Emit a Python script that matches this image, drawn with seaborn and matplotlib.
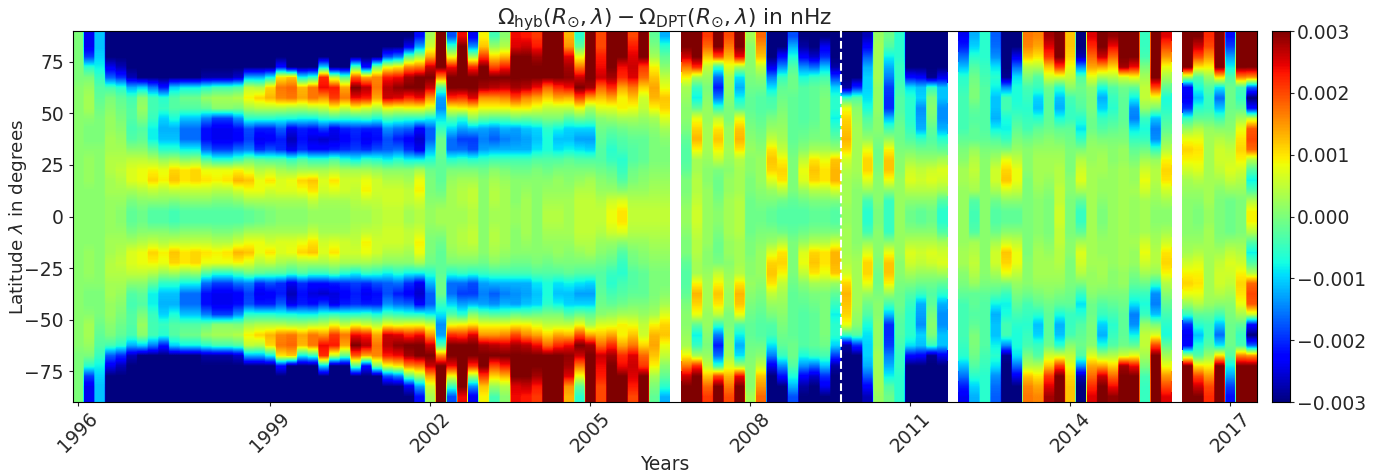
import numpy as np
import pandas as pd
import matplotlib
matplotlib.use('Agg')
import matplotlib.pyplot as plt
import seaborn as sns

sns.set_style('white')

# differences in 1e-4 nHz, one list per time step, from the pole (87.5) to the equator (2.5)
latitudes = [87.5, 82.5, 77.5, 72.5, 67.5, 62.5, 57.5, 52.5, 47.5, 42.5, 37.5, 32.5, 27.5, 22.5, 17.5, 12.5, 7.5, 2.5]
gap = [np.nan] * 18

cycle23_rise = [
    [0, 0, 0, 0, 0, 1, 1, 1, 1, 1, 1, 1, 1, 1, 1, 1, 1, 1],
    [-24, -24, -19, -6, 0, 2, 3, 3, 1, 0, 0, 1, 2, 2, 2, 1, 1, 1],
    [-11, -11, -10, -8, -5, -3, -2, -1, 0, 0, 0, 1, 1, 1, 1, 1, 1, 1],
    [-30, -30, -30, -24, -17, -4, 0, 1, 2, 2, 3, 3, 4, 4, 3, 3, 2, 2],
    [-30, -30, -30, -27, -20, -6, -2, -1, 0, 1, 2, 3, 4, 5, 4, 3, 2, 1],
    [-30, -30, -30, -30, -27, -12, -4, -3, -3, -4, -3, 1, 5, 7, 7, 3, 0, -2],
    [-30, -30, -30, -30, -30, -10, 1, 2, 0, -3, -2, 1, 5, 8, 8, 4, 1, -1],
    [-30, -30, -30, -30, -30, -15, -4, -4, -5, -8, -8, -2, 4, 9, 11, 5, 1, -3],
    [-30, -30, -30, -30, -30, -21, -6, -5, -10, -12, -11, -6, 2, 8, 9, 4, 1, -3],
    [-30, -30, -30, -30, -30, -10, -3, -3, -7, -12, -11, -6, 3, 11, 12, 5, 0, -4],
    [-30, -30, -30, -30, -30, -8, -1, -3, -11, -16, -16, -8, 1, 10, 10, 5, 1, -3],
    [-30, -30, -30, -30, -30, -8, -1, -3, -11, -16, -16, -8, 2, 11, 11, 5, 1, -3],
    [-30, -30, -30, -30, -28, -6, 2, -2, -15, -22, -22, -16, -3, 8, 10, 5, 1, -3],
    [-30, -30, -30, -30, -28, -4, 3, 1, -19, -24, -24, -19, -6, 8, 9, 4, 0, -3],
    [-30, -30, -30, -30, -28, -4, 3, 1, -19, -24, -24, -19, -6, 8, 10, 4, 0, -3],
    [-30, -30, -30, -30, -26, -3, 4, 0, -14, -22, -23, -16, -4, 9, 13, 6, 1, -3],
]
cycle23_max = [
    [-30, -30, -30, -30, -12, 5, 9, 3, -6, -18, -19, -15, -1, 7, 12, 8, 3, -2],
    [-30, -30, -30, -30, -12, 4, 11, 4, -6, -21, -24, -20, -2, 4, 8, 8, 3, -1],
    [-30, -30, -30, -30, -8, 11, 13, 4, -6, -21, -23, -18, -3, 5, 10, 6, 3, 0],
    [-30, -30, -30, -22, 10, 17, 16, 4, -7, -17, -21, -20, -3, 3, 7, 7, 3, 1],
    [-30, -30, -30, -30, 12, 18, 17, 3, -7, -24, -27, -24, -5, 2, 8, 7, 3, 1],
    [-30, -30, -30, -30, -8, 13, 14, 3, -8, -21, -22, -20, -3, 3, 11, 8, 3, 1],
    [-30, -30, -30, -30, -5, 17, 17, 4, -8, -22, -25, -22, -5, 3, 12, 10, 5, 2],
    [-30, -30, -30, -10, 22, 24, 15, 5, -6, -19, -26, -22, -5, 3, 7, 6, 3, 2],
    [-30, -30, -30, -30, 5, 23, 21, 8, -5, -24, -25, -21, -3, 4, 10, 7, 3, 2],
    [-30, -30, -30, -30, -2, 14, 17, 5, -6, -21, -23, -20, -6, 3, 6, 6, 3, 2],
    [-30, -30, -30, -3, 19, 30, 24, 8, -6, -20, -21, -19, -8, 3, 6, 5, 4, 3],
    [-30, -30, -30, -22, 14, 27, 23, 6, -5, -21, -24, -20, -5, 3, 8, 9, 5, 3],
    [-30, -30, -30, 0, 16, 17, 14, 4, -7, -21, -22, -18, -6, 2, 6, 6, 5, 4],
    [-30, -30, -18, 8, 23, 27, 26, 8, -4, -14, -18, -17, -8, 1, 4, 6, 6, 5],
    [-30, -30, -15, 10, 24, 29, 25, 7, -5, -16, -21, -16, -6, 1, 4, 6, 6, 5],
    [-30, -24, -2, 16, 28, 30, 22, 8, -6, -17, -23, -20, -8, 1, 3, 5, 5, 3],
]
cycle23_decline = [
    [-22, -13, 3, 17, 30, 30, 24, 8, -6, -23, -26, -24, -8, 3, 8, 9, 6, 4],
    [3, 6, 14, 26, 30, 26, 15, 6, -8, -17, -17, -12, -6, -1, 0, 0, 1, 2],
    [30, 30, 30, 30, 16, -3, -13, -14, -9, -5, -1, -1, -2, -2, -2, -1, 1, 3],
    [-18, -5, 8, 24, 30, 30, 22, 8, -3, -10, -16, -16, -6, 0, 2, 3, 3, 3],
    [24, 30, 30, 30, 30, 30, 21, 9, -6, -13, -19, -16, -5, 0, 3, 4, 4, 3],
    [-24, -14, 3, 22, 30, 30, 25, 10, 1, -12, -19, -18, -6, 0, 3, 5, 5, 4],
    [9, 12, 21, 30, 30, 28, 15, 8, -2, -13, -15, -13, -5, -1, 1, 1, 1, 1],
    [-4, 2, 11, 20, 30, 27, 15, 8, -3, -14, -17, -12, -4, 1, 3, 4, 4, 3],
    [1, 4, 13, 23, 30, 26, 16, 8, -3, -12, -15, -12, -4, 0, 2, 3, 3, 3],
    [24, 25, 30, 30, 30, 28, 20, 9, -1, -13, -14, -12, -4, -1, 1, 1, 1, 2],
    [23, 26, 30, 30, 30, 27, 16, 9, -2, -11, -13, -12, -4, -1, 1, 2, 3, 3],
    [21, 23, 28, 30, 30, 24, 14, 7, -1, -10, -11, -9, -3, 0, 1, 1, 1, 1],
    [30, 30, 30, 30, 30, 18, 11, 5, 0, -6, -7, -7, -3, -1, 1, 2, 3, 4],
    [30, 30, 30, 30, 30, 22, 14, 5, 0, -8, -11, -9, -3, 0, 2, 2, 3, 4],
    [13, 15, 25, 28, 29, 24, 13, 5, -3, -10, -11, -8, -2, 0, 1, 2, 3, 3],
    [-6, -2, 8, 17, 26, 30, 20, 8, -1, -10, -13, -9, -3, 0, 2, 4, 5, 5],
    [30, 30, 30, 30, 30, 28, 14, 3, -2, -10, -13, -10, -3, 0, 3, 4, 5, 5],
    [20, 20, 23, 24, 26, 18, 12, 7, 1, -1, -2, -3, -3, -1, 1, 2, 4, 5],
    [30, 30, 30, 30, 28, 22, 14, 7, 2, -2, -4, -6, -5, -2, 0, 2, 6, 8],
    [30, 30, 30, 24, 22, 14, 9, 9, 3, -1, -3, -4, -6, -5, -3, 1, 7, 10],
    [20, 23, 25, 26, 25, 17, 12, 8, 3, 0, -2, -3, -3, -1, 0, 2, 4, 5],
    [30, 30, 30, 21, 18, 11, 6, 5, 2, 0, -2, -2, -2, 0, 1, 2, 4, 5],
    [-2, 0, 3, 9, 12, 14, 13, 9, 3, 1, 0, 0, 0, 1, 2, 3, 4, 5],
    [-12, -6, -2, 1, 5, 8, 12, 11, 7, 3, 1, 0, 0, 1, 2, 3, 4, 5],
]
cycle23_min = [
    [30, 30, 26, 17, 9, 3, 2, 1, 1, 0, -2, -3, -3, -2, 0, 0, 1, 2],
    [30, 30, 30, 22, 3, -5, -8, -2, 8, 11, 13, 9, 3, 3, 4, 4, 5, 6],
    [21, 18, 12, 5, 2, 0, 1, 2, 2, 3, 3, 3, 2, 1, 1, 2, 2, 2],
    [30, 30, 20, -5, -16, -21, -15, -5, 5, 10, 12, 9, 5, 0, -1, -1, 0, 1],
    [20, 17, 13, 7, 3, 2, 1, 0, 0, 2, 2, 3, 2, 1, 2, 2, 3, 3],
    [30, 30, 24, 3, -9, -12, -8, -3, 8, 12, 13, 10, 4, 3, 3, 3, 4, 4],
    [3, 1, 1, 1, 0, -1, -2, -2, -1, 0, 1, 2, 1, 1, 0, 0, -1, -1],
    [18, 15, 12, 5, 1, -1, -3, -3, -2, -1, 0, 1, 2, 2, 2, 1, 0, -1],
    [-30, -30, -30, -24, -15, -9, -4, -3, 0, 2, 5, 10, 12, 11, 7, 2, 0, -2],
    [-30, -30, -22, -14, -5, -2, -1, 0, 1, 2, 3, 5, 9, 11, 10, 4, -1, -3],
    [-18, -12, -7, -3, -1, -1, -2, -2, -2, -2, -2, -1, 0, 0, 0, 0, -2, -3],
    [-30, -28, -23, -14, -7, -3, -3, -3, -3, -2, -1, 1, 5, 8, 7, 2, -1, -3],
    [-30, -30, -26, -16, -5, -2, -2, -2, -2, -1, 0, 3, 10, 12, 11, 4, 0, -2],
    [-30, -24, -20, -11, -4, -1, 0, 0, 0, 0, 0, 3, 8, 10, 10, 4, 0, -2],
    [-30, -30, -30, -28, -19, -10, -6, -6, -8, -5, -2, 2, 12, 13, 13, 6, 0, -3],
]
cycle24_rise = [
    [-30, -30, -30, -30, -30, -28, -5, 8, 11, 12, 13, 11, 6, 4, 3, 3, 3, 2],
    [-30, -30, -30, -30, -30, -20, -3, 1, 2, 3, 3, 3, 3, 3, 2, 1, 1, 1],
    [-27, -23, -17, -12, -10, -10, -9, -7, -3, -1, 2, 8, 11, 11, 7, 2, -4, -6],
    [2, 3, 3, 3, 3, 2, 2, 2, 1, 1, 0, -1, -1, 0, 1, 1, 1, 0],
    [-1, -3, -8, -12, -15, -19, -20, -20, -11, -4, 2, 9, 12, 12, 8, 1, -5, -5],
    [-6, -6, -6, -5, -5, -4, -3, -3, -2, -1, -1, 0, 1, 1, 2, 2, 2, 2],
    [-30, -30, -30, -30, -22, -9, -6, -6, -6, -5, -3, 0, 3, 6, 7, 4, 1, -1],
    [-30, -30, -30, -30, -23, -11, -10, -14, -13, -12, -5, -1, 2, 5, 6, 4, 1, -2],
    [-30, -30, -30, -30, -29, -5, 0, 1, 0, -2, -3, -1, 2, 6, 7, 4, 1, -1],
    [-30, -30, -30, -30, -24, -11, -11, -14, -14, -12, -6, -2, 3, 7, 6, 3, -3, -6],
]
cycle24_max = [
    [-24, -21, -16, -11, -6, -5, -4, -4, -4, -4, -2, 0, 1, 3, 3, 2, 2, 2],
    [-12, -10, -6, -3, -1, 0, 0, -2, -3, -2, -2, 2, 4, 5, 4, 3, -3, -4],
    [-6, -6, -6, -5, -4, -3, -3, -3, -3, -3, -2, 0, 1, 1, 1, 1, 1, 1],
    [-17, -16, -14, -9, -6, -8, -11, -11, -12, -8, -3, 0, 3, 6, 6, 3, -1, -3],
    [-30, -30, -30, -30, -29, -14, -4, -4, -7, -8, -5, 0, 8, 11, 12, 6, 1, -2],
    [-30, -30, -24, -16, -9, -7, -7, -6, -4, -2, 0, 2, 5, 8, 8, 5, 1, -2],
    [17, 16, 12, 4, 0, -4, -5, -6, -5, -4, -1, 1, 1, 1, 0, 0, 0, 0],
    [16, 14, 10, 4, -3, -5, -10, -11, -6, -2, 0, 2, 3, 3, 3, 2, 1, 1],
    [28, 25, 21, 12, 6, -1, -2, -2, -2, -1, 1, 2, 3, 3, 2, 1, 0, 0],
    [30, 30, 30, 21, 6, -6, -11, -12, -7, -2, 0, 2, 3, 4, 4, 5, 5, 6],
    [12, 12, 11, 8, 5, 1, -4, -5, -5, -2, -1, 0, 0, 0, 1, 1, 0, 0],
    [-30, -30, -27, -14, -3, -1, -2, -3, -6, -9, -5, 0, 4, 6, 7, 3, -2, -5],
    [25, 22, 18, 14, 7, 1, 0, 0, -1, -1, 1, 2, 2, 3, 3, 3, 3, 3],
]
cycle24_decline = [
    [30, 30, 26, 14, 3, -7, -12, -10, -5, -3, 0, 2, 3, 3, 2, 2, 1, 0],
    [29, 24, 18, 11, 4, -3, -5, -6, -4, -2, 0, 1, 1, 2, 2, 2, 2, 2],
    [30, 30, 30, 28, 6, -1, -2, -2, -2, -1, 0, 2, 2, 3, 3, 3, 3, 3],
    [30, 30, 30, 24, 8, -2, -8, -14, -15, -9, -5, -2, 0, 2, 2, 3, 2, 2],
    [-5, -5, -4, 0, 3, 5, 5, 2, -5, -7, -5, -1, 3, 6, 8, 6, 3, 3],
    [30, 30, 30, 30, 30, 20, 7, 0, -11, -15, -14, -5, 2, 4, 4, 3, 2, 1],
    [25, 20, 15, 8, 3, -2, -7, -6, -4, -2, 1, 4, 9, 11, 10, 6, 3, 1],
]
cycle24_late = [
    [30, 30, 30, 30, 3, -23, -24, -20, -5, 2, 8, 11, 9, 6, 3, 2, 1, 1],
    [30, 26, 20, 10, -3, -7, -11, -6, -2, 4, 8, 10, 9, 7, 4, 2, 1, 0],
    [22, 20, 15, 9, 2, -3, -5, -5, -2, 2, 3, 3, 3, 3, 3, 3, 3, 2],
    [30, 30, 30, 30, 10, -9, -16, -11, -4, 1, 4, 6, 6, 5, 3, 1, 0, 0],
    [-22, -19, -13, -8, -3, -1, -1, -1, 0, 1, 3, 5, 6, 7, 5, 2, -1, -1],
    [30, 30, 30, 30, 16, -4, -5, -2, 3, 8, 10, 11, 9, 6, 4, 2, 0, 0],
    [30, 30, 30, 30, 15, -17, -30, -22, 6, 19, 20, 18, 4, -3, -8, -3, 4, 9],
]

year_labels = ['1996', '1999', '2002', '2005', '2008', '2011', '2014', '2017']
year_columns = [0, 18, 33, 48, 63, 78, 93, 108]
lat_labels = [75, 50, 25, 0, -25, -50, -75]
transition_column = 72

north = np.array(cycle23_rise + cycle23_max + cycle23_decline + [gap] + cycle23_min
                 + cycle24_rise + [gap] + cycle24_max + cycle24_decline + [gap] + cycle24_late).T / 1e4
# the difference is even in latitude, the south is the mirror of the north
grid = np.vstack([north, north[::-1]])
band_names = latitudes + [-x for x in latitudes[::-1]]
frame = pd.DataFrame(grid, index=band_names)

fig = plt.figure(figsize=(13.82, 4.73), dpi=100)
ax = fig.add_axes([73 / 1382, 1 - 402 / 473, 1184 / 1382, 371 / 473])
cax = fig.add_axes([1272 / 1382, 1 - 402 / 473, 18 / 1382, 371 / 473])

sns.heatmap(frame, cmap='jet', vmin=-0.003, vmax=0.003, ax=ax, cbar_ax=cax,
            cbar_kws={'ticks': [-0.003, -0.002, -0.001, 0, 0.001, 0.002, 0.003], 'format': '%.3f'},
            xticklabels=False, yticklabels=False)

# same values again, smooth across the latitude bands only
ax.imshow(np.repeat(grid, 16, axis=1), extent=(0, grid.shape[1], grid.shape[0], 0), aspect='auto',
          cmap='jet', vmin=-0.003, vmax=0.003, interpolation='bilinear', interpolation_stage='data', zorder=2)
ax.set_xlim(0, grid.shape[1])
ax.set_ylim(grid.shape[0], 0)

ax.axvline(transition_column, color='white', linestyle='--', linewidth=1.5, zorder=3)

for side in ax.spines.values():
    side.set_visible(True)
    side.set_color('black')
ax.set_xticks([c + 0.5 for c in year_columns])
ax.set_xticklabels(year_labels, rotation=45, fontsize=13.5)
ax.set_yticks([(90 - lat) / 5 for lat in lat_labels])
ax.set_yticklabels([str(lat).replace('-', '\u2212') for lat in lat_labels], rotation=0, fontsize=13.5)
ax.tick_params(left=True, bottom=True, length=3, width=0.8)
ax.tick_params(axis='x', pad=2)
ax.set_xlabel('Years', fontsize=13.4, labelpad=-1)
ax.set_ylabel(r'Latitude $\lambda$ in degrees', fontsize=13.2, labelpad=-3)
ax.set_title(r'$\Omega_{\mathrm{hyb}}(R_{\odot},\lambda) - \Omega_{\mathrm{DPT}}(R_{\odot},\lambda)$ in nHz',
             fontsize=15.7, pad=5)

cax.tick_params(labelsize=13.5, right=True, length=3, width=0.8, pad=2)
for side in cax.spines.values():
    side.set_visible(True)
    side.set_color('black')
labels = [t.get_text().replace('-', '\u2212') for t in cax.get_yticklabels()]
cax.set_yticks(cax.get_yticks())
cax.set_yticklabels(labels)

fig.savefig('out.png', dpi=100)
